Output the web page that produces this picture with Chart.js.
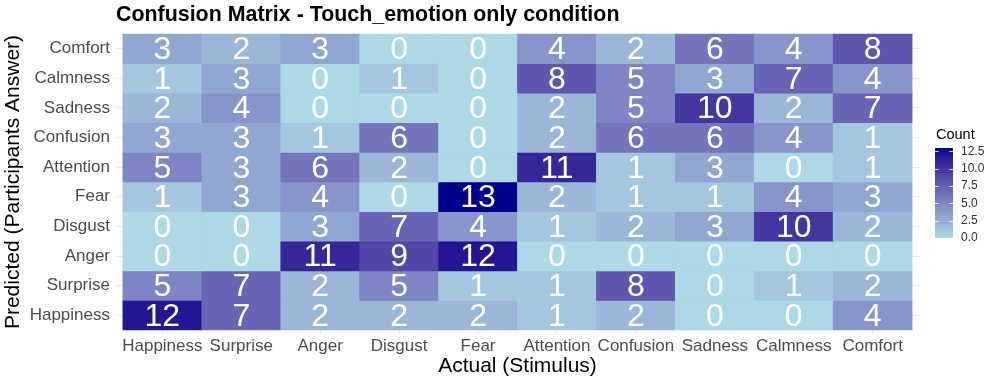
<!DOCTYPE html>
<html>
<head>
<meta charset="utf-8">
<script src="https://cdn.jsdelivr.net/npm/chart.js@4/dist/chart.umd.min.js"></script>
<style>
  html, body { margin: 0; padding: 0; background: #ffffff; }
  #wrap { width: 997px; height: 384px; }
</style>
</head>
<body>
<div id="wrap"><canvas id="chart" width="997" height="384"></canvas></div>
<script>
// x axis: actual stimulus, left to right
const actualLabels = ["Happiness", "Surprise", "Anger", "Disgust", "Fear",
  "Attention", "Confusion", "Sadness", "Calmness", "Comfort"];
// y axis: predicted answer, bottom to top
const predictedLabels = ["Happiness", "Surprise", "Anger", "Disgust", "Fear",
  "Attention", "Confusion", "Sadness", "Calmness", "Comfort"];

// counts per predicted row, in actualLabels order
const happinessRow = [12, 7, 2, 2, 2, 1, 2, 0, 0, 4];
const surpriseRow  = [5, 7, 2, 5, 1, 1, 8, 0, 1, 2];
const angerRow     = [0, 0, 11, 9, 12, 0, 0, 0, 0, 0];
const disgustRow   = [0, 0, 3, 7, 4, 1, 2, 3, 10, 2];
const fearRow      = [1, 3, 4, 0, 13, 2, 1, 1, 4, 3];
const attentionRow = [5, 3, 6, 2, 0, 11, 1, 3, 0, 1];
const confusionRow = [3, 3, 1, 6, 0, 2, 6, 6, 4, 1];
const sadnessRow   = [2, 4, 0, 0, 0, 2, 5, 10, 2, 7];
const calmnessRow  = [1, 3, 0, 1, 0, 8, 5, 3, 7, 4];
const comfortRow   = [3, 2, 3, 0, 0, 4, 2, 6, 4, 8];

const countRows = [happinessRow, surpriseRow, angerRow, disgustRow, fearRow,
  attentionRow, confusionRow, sadnessRow, calmnessRow, comfortRow];

const legendTicks = [0, 2.5, 5, 7.5, 10, 12.5];
const lowColor = [173, 216, 230];  // lightblue
const highColor = [0, 0, 139];     // darkblue

Chart.defaults.font.family = "'Liberation Sans', Arial, sans-serif";

// gradient in Lab space, like ggplot's scale_fill_gradient
function toLinear(c) {
  c /= 255;
  return c <= 0.04045 ? c / 12.92 : Math.pow((c + 0.055) / 1.055, 2.4);
}
function toGamma(c) {
  const v = c <= 0.0031308 ? 12.92 * c : 1.055 * Math.pow(c, 1 / 2.4) - 0.055;
  return Math.round(Math.max(0, Math.min(1, v)) * 255);
}
function rgbToLab(rgb) {
  const [r, g, b] = rgb.map(toLinear);
  const x = (r * 0.4124 + g * 0.3576 + b * 0.1805) / 0.95047;
  const y = r * 0.2126 + g * 0.7152 + b * 0.0722;
  const z = (r * 0.0193 + g * 0.1192 + b * 0.9505) / 1.08883;
  const f = (t) => (t > 0.008856 ? Math.cbrt(t) : 7.787 * t + 16 / 116);
  const fx = f(x), fy = f(y), fz = f(z);
  return [116 * fy - 16, 500 * (fx - fy), 200 * (fy - fz)];
}
function labToRgb([L, a, b]) {
  const fy = (L + 16) / 116, fx = fy + a / 500, fz = fy - b / 200;
  const inv = (t) => {
    const t3 = t * t * t;
    return t3 > 0.008856 ? t3 : (t - 16 / 116) / 7.787;
  };
  const x = inv(fx) * 0.95047, y = inv(fy), z = inv(fz) * 1.08883;
  return [
    toGamma(x * 3.2406 + y * -1.5372 + z * -0.4986),
    toGamma(x * -0.9689 + y * 1.8758 + z * 0.0415),
    toGamma(x * 0.0557 + y * -0.2040 + z * 1.0570),
  ];
}
const lowLab = rgbToLab(lowColor);
const highLab = rgbToLab(highColor);
const maxCount = Math.max(...countRows.flat());

function fillFor(v) {
  const t = Math.max(0, Math.min(1, v / maxCount));
  const lab = lowLab.map((c, i) => c + (highLab[i] - c) * t);
  const [r, g, b] = labToRgb(lab);
  return `rgb(${r},${g},${b})`;
}

const cells = [];
countRows.forEach((row, yi) => {
  row.forEach((v, xi) => {
    cells.push({ x: xi, y: [yi - 0.5, yi + 0.5], v });
  });
});

const cellLabelPlugin = {
  id: "cellLabels",
  afterDatasetsDraw(chart) {
    const { ctx, scales } = chart;
    ctx.save();
    ctx.fillStyle = "#ffffff";
    ctx.font = "32px 'Liberation Sans', Arial, sans-serif";
    ctx.textAlign = "center";
    ctx.textBaseline = "middle";
    cells.forEach((c) => {
      const px = scales.x.getPixelForValue(c.x);
      const py = scales.y.getPixelForValue((c.y[0] + c.y[1]) / 2);
      ctx.fillText(String(c.v), px, py + 1.5);
    });
    ctx.restore();
  },
};

const decorPlugin = {
  id: "decor",
  afterDraw(chart) {
    const { ctx } = chart;
    ctx.save();
    // title
    ctx.fillStyle = "#000000";
    ctx.font = "bold 21.4px 'Liberation Sans', Arial, sans-serif";
    ctx.textAlign = "left";
    ctx.textBaseline = "alphabetic";
    ctx.fillText("Confusion Matrix - Touch_emotion only condition", 116, 20.5);

    // colour bar legend
    const barLeft = 935, barW = 18, barTop = 148, barBottom = 238;
    const yFor = (v) => barBottom - (v / maxCount) * (barBottom - barTop);
    for (let py = barTop; py < barBottom; py++) {
      const v = ((barBottom - py - 0.5) / (barBottom - barTop)) * maxCount;
      ctx.fillStyle = fillFor(v);
      ctx.fillRect(barLeft, py, barW, 1);
    }
    ctx.strokeStyle = "rgba(255,255,255,0.8)";
    ctx.lineWidth = 1;
    legendTicks.forEach((v) => {
      const py = Math.round(yFor(v)) + 0.5;
      ctx.beginPath();
      ctx.moveTo(barLeft, py);
      ctx.lineTo(barLeft + 3.6, py);
      ctx.moveTo(barLeft + barW - 3.6, py);
      ctx.lineTo(barLeft + barW, py);
      ctx.stroke();
    });
    ctx.fillStyle = "#000000";
    ctx.font = "14.5px 'Liberation Sans', Arial, sans-serif";
    ctx.fillText("Count", 936, 139);
    ctx.fillStyle = "#333333";
    ctx.font = "12px 'Liberation Sans', Arial, sans-serif";
    ctx.textBaseline = "middle";
    legendTicks.forEach((v) => {
      ctx.fillText(v.toFixed(1), 961, yFor(v));
    });
    ctx.restore();
  },
};

new Chart(document.getElementById("chart"), {
  type: "bar",
  data: {
    datasets: [{
      data: cells,
      backgroundColor: cells.map((c) => fillFor(c.v)),
      borderWidth: 0,
      barPercentage: 1,
      categoryPercentage: 1,
    }],
  },
  options: {
    responsive: false,
    animation: false,
    layout: { padding: { left: 0, top: 31, right: 77, bottom: 0 } },
    plugins: {
      legend: { display: false },
      tooltip: { enabled: false },
    },
    scales: {
      x: {
        type: "linear",
        min: -0.6,
        max: 9.6,
        offset: false,
        afterBuildTicks: (axis) => {
          axis.ticks = actualLabels.map((_, i) => ({ value: i }));
        },
        afterFit: (axis) => {
          axis.height = 51;
          axis.paddingLeft = 0;
          axis.paddingRight = 0;
        },
        ticks: {
          callback: (value) => actualLabels[value],
          autoSkip: false,
          maxRotation: 0,
          padding: 3,
          color: "#4d4d4d",
          font: { size: 17 },
        },
        grid: { color: "#ebebeb", drawTicks: false, offset: false },
        border: { display: false },
        title: {
          display: true,
          text: "Actual (Stimulus)",
          color: "#000000",
          font: { size: 21 },
          padding: { top: 0, bottom: 5 },
        },
      },
      y: {
        type: "linear",
        min: -0.6,
        max: 9.6,
        offset: false,
        afterBuildTicks: (axis) => {
          axis.ticks = predictedLabels.map((_, i) => ({ value: i }));
        },
        afterFit: (axis) => {
          axis.width = 115;
          axis.paddingTop = 0;
          axis.paddingBottom = 0;
        },
        ticks: {
          callback: (value) => predictedLabels[value],
          autoSkip: false,
          padding: 5,
          color: "#4d4d4d",
          font: { size: 17 },
        },
        grid: { color: "#ebebeb", drawTicks: false, offset: false },
        border: { display: false },
        title: {
          display: true,
          text: "Predicted (Participants Answer)",
          color: "#000000",
          font: { size: 21 },
          padding: { top: 0.5, bottom: 0 },
        },
      },
    },
  },
  plugins: [cellLabelPlugin, decorPlugin],
});
</script>
</body>
</html>
